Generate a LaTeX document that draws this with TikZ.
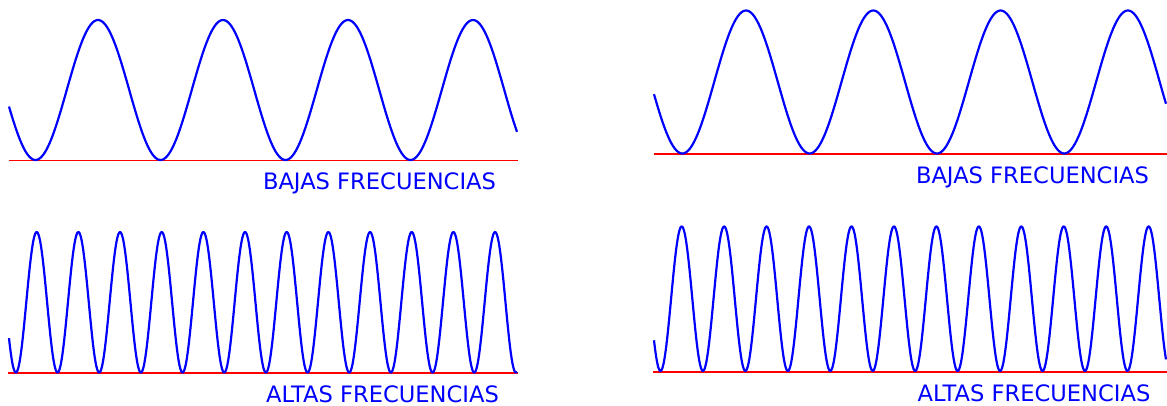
\documentclass[tikz,border=0pt]{standalone}
\usepackage{fontspec}
\setmainfont{DejaVu Sans}
\definecolor{wblue}{RGB}{0,0,255}
\definecolor{wred}{RGB}{255,0,0}
\tikzset{
  wave/.style={draw=wblue, line width=2.2pt, smooth, line join=round},
  base/.style={draw=wred, line width=1.7pt},
  lbl/.style={text=wblue, font=\fontsize{22.6}{26}\selectfont, anchor=base, inner sep=0pt}
}
\begin{document}
\begin{tikzpicture}[x=1pt,y=-1pt]
\useasboundingbox (0,0) rectangle (1167,406);
% baselines
\coordinate (lta) at (9,160.5);   \coordinate (ltb) at (518,160.5);
\coordinate (lba) at (8,373.3);   \coordinate (lbb) at (518,373.3);
\coordinate (rta) at (654,154);   \coordinate (rtb) at (1167,154);
\coordinate (rba) at (653,371.7); \coordinate (rbb) at (1167,371.7);
\draw[base] (lta) -- (ltb);
\draw[base] (lba) -- (lbb);
\draw[base] (rta) -- (rtb);
\draw[base] (rba) -- (rbb);
% waves
\draw[wave] plot[samples=300, domain=9:517] (\x, {90 - 70*cos(360*((\x-98)/125))});
\draw[wave] plot[samples=600, domain=9:517] (\x, {302.3 - 70.3*cos(360*((\x-36.7)/41.67))});
\draw[wave] plot[samples=300, domain=654:1166] (\x, {82 - 71.5*cos(360*((\x-746)/127.3))});
\draw[wave] plot[samples=600, domain=654:1166] (\x, {298.7 - 72.3*cos(360*((\x-681.7)/42.45))});
% labels
\node[lbl] (bl) at (379.5,190) {BAJAS FRECUENCIAS};
\node[lbl] (al) at (382.5,402) {ALTAS FRECUENCIAS};
\node[lbl] (br) at (1032.5,184) {BAJAS FRECUENCIAS};
\node[lbl] (ar) at (1034,401) {ALTAS FRECUENCIAS};
\end{tikzpicture}
\end{document}
